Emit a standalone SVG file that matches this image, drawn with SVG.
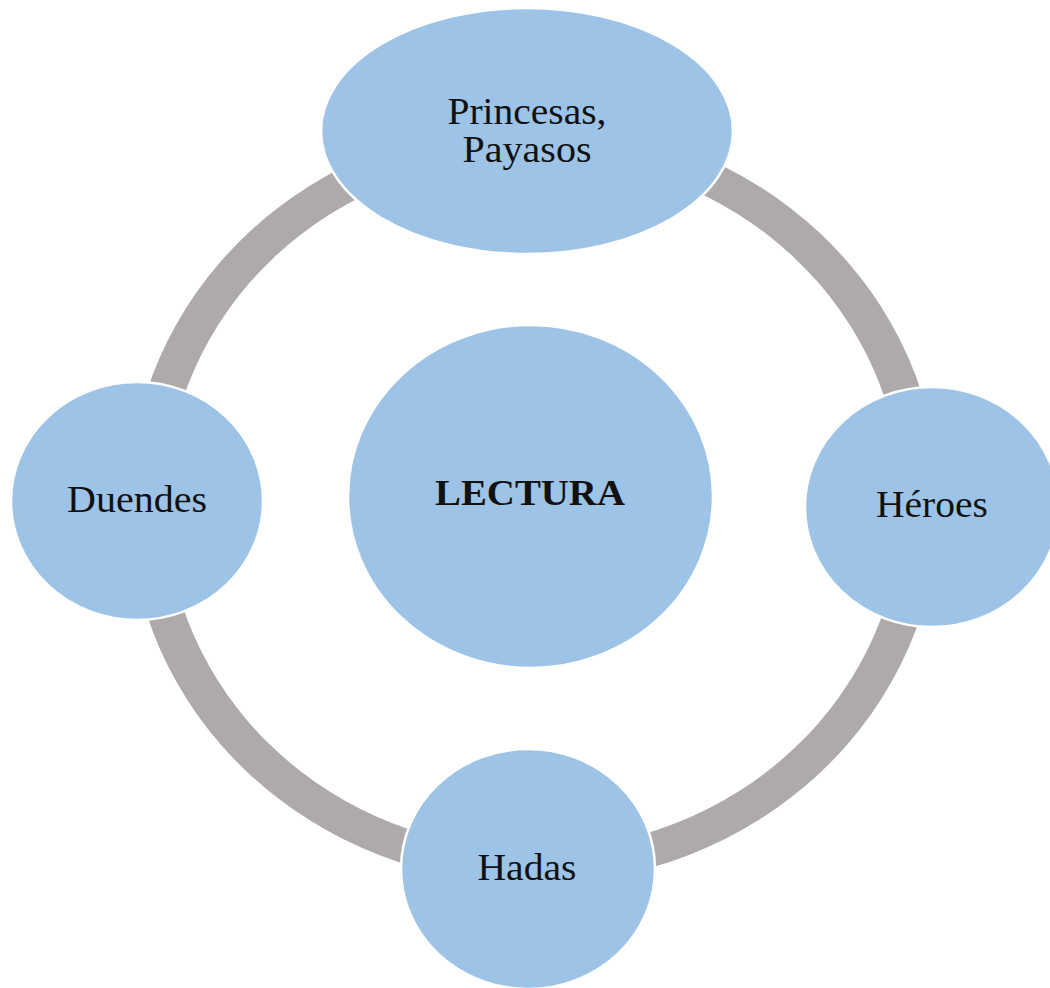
<svg xmlns="http://www.w3.org/2000/svg" width="1050" height="988" viewBox="0 0 1050 988">
<style>
.node{fill:#9DC3E6;stroke:#FFFFFF;stroke-width:2.5}
.lbl{font-family:"Liberation Serif","Times New Roman",serif;font-size:37.5px;fill:#111111;text-anchor:middle}
.bold{font-weight:bold;font-size:36px}
.ring{fill:#ADAAA9;fill-rule:evenodd;stroke:none}
</style>
<rect x="0" y="0" width="1050" height="988" fill="#FFFFFF"/>
<g id="connectors">
<path class="ring" d="M129,503 A405,381 0 1,0 939,503 A405,381 0 1,0 129,503 Z M166,503 A368,347 0 1,0 902,503 A368,347 0 1,0 166,503 Z"/>
</g>
<g id="node-center">
<ellipse class="node" cx="530.5" cy="496.5" rx="182.5" ry="171.5"/>
<text class="lbl bold" x="530" y="505" textLength="190" lengthAdjust="spacingAndGlyphs">LECTURA</text>
</g>
<g id="node-top">
<ellipse class="node" cx="527" cy="131" rx="206" ry="123"/>
<text class="lbl" x="527" y="124" textLength="159" lengthAdjust="spacingAndGlyphs">Princesas,</text>
<text class="lbl" x="527" y="162" textLength="129" lengthAdjust="spacingAndGlyphs">Payasos</text>
</g>
<g id="node-right">
<ellipse class="node" cx="932" cy="507" rx="127" ry="120"/>
<text class="lbl" x="932" y="517" textLength="112" lengthAdjust="spacingAndGlyphs">Héroes</text>
</g>
<g id="node-bottom">
<ellipse class="node" cx="528" cy="869" rx="127" ry="120"/>
<text class="lbl" x="527" y="880" textLength="99" lengthAdjust="spacingAndGlyphs">Hadas</text>
</g>
<g id="node-left">
<ellipse class="node" cx="137" cy="501" rx="126" ry="119"/>
<text class="lbl" x="137" y="512" textLength="140" lengthAdjust="spacingAndGlyphs">Duendes</text>
</g>
</svg>
